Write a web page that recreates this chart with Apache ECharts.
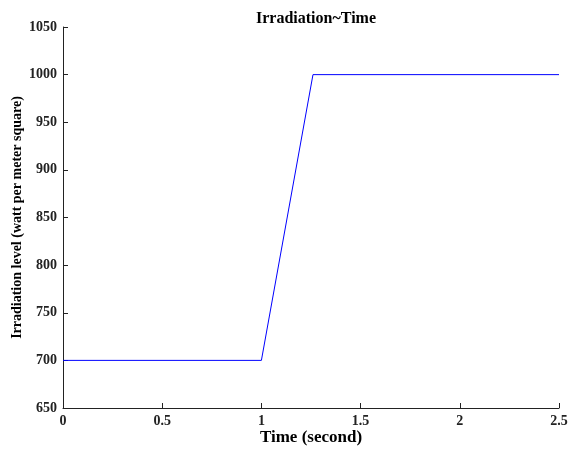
<!DOCTYPE html>
<html>
<head>
<meta charset="utf-8">
<script src="https://cdn.jsdelivr.net/npm/echarts@6/dist/echarts.min.js"></script>
<style>
  html, body { margin: 0; padding: 0; background: #fff; }
  #chart { width: 569px; height: 449px; }
</style>
</head>
<body>
<div id="chart"></div>
<script>
// irradiation profile (time in seconds, level in W/m^2)
const timeValues = [0, 1, 1.26, 2.5]
const irradiation = [700, 700, 1000, 1000]

const serif = "'Liberation Serif', 'Times New Roman', serif"

const chart = echarts.init(document.getElementById('chart'))

const option = {
  backgroundColor: '#fff',
  animation: false,
  title: {
    text: 'Irradiation~Time',
    left: 311,
    top: 6,
    textAlign: 'center',
    textStyle: { fontFamily: serif, fontWeight: 'bold', fontSize: 16, color: '#000' }
  },
  grid: {
    left: 63,
    right: 10,
    top: 27,
    bottom: 41,
    containLabel: false,
    outerBoundsMode: 'none'
  },
  xAxis: {
    type: 'value',
    min: 0,
    max: 2.5,
    interval: 0.5,
    name: 'Time (second)',
    nameLocation: 'middle',
    nameGap: 21,
    nameMoveOverlap: false,
    nameTextStyle: { fontFamily: serif, fontWeight: 'bold', fontSize: 17, color: '#000' },
    axisLine: { show: true, lineStyle: { color: '#222', width: 1 } },
    axisTick: { show: true, inside: true, length: 5, lineStyle: { color: '#222' } },
    axisLabel: { fontFamily: serif, fontWeight: 'bold', fontSize: 14, color: '#222', margin: 6, formatter: v => String(v) },
    splitLine: { show: false }
  },
  yAxis: {
    type: 'value',
    min: 650,
    max: 1050,
    interval: 50,
    name: 'Irradiation level (watt per meter square)',
    nameLocation: 'middle',
    nameGap: 39,
    nameMoveOverlap: false,
    nameTextStyle: { fontFamily: serif, fontWeight: 'bold', fontSize: 14, color: '#000' },
    axisLine: { show: true, lineStyle: { color: '#222', width: 1 } },
    axisTick: { show: true, inside: true, length: 5, lineStyle: { color: '#222' } },
    axisLabel: { fontFamily: serif, fontWeight: 'bold', fontSize: 14, color: '#222', margin: 6, formatter: v => String(v) },
    splitLine: { show: false }
  },
  series: [{
    type: 'line',
    data: timeValues.map((t, i) => [t, irradiation[i]]),
    showSymbol: false,
    lineStyle: { color: '#0000ff', width: 1 },
    itemStyle: { color: '#0000ff' }
  }]
}

chart.setOption(option)
</script>
</body>
</html>
